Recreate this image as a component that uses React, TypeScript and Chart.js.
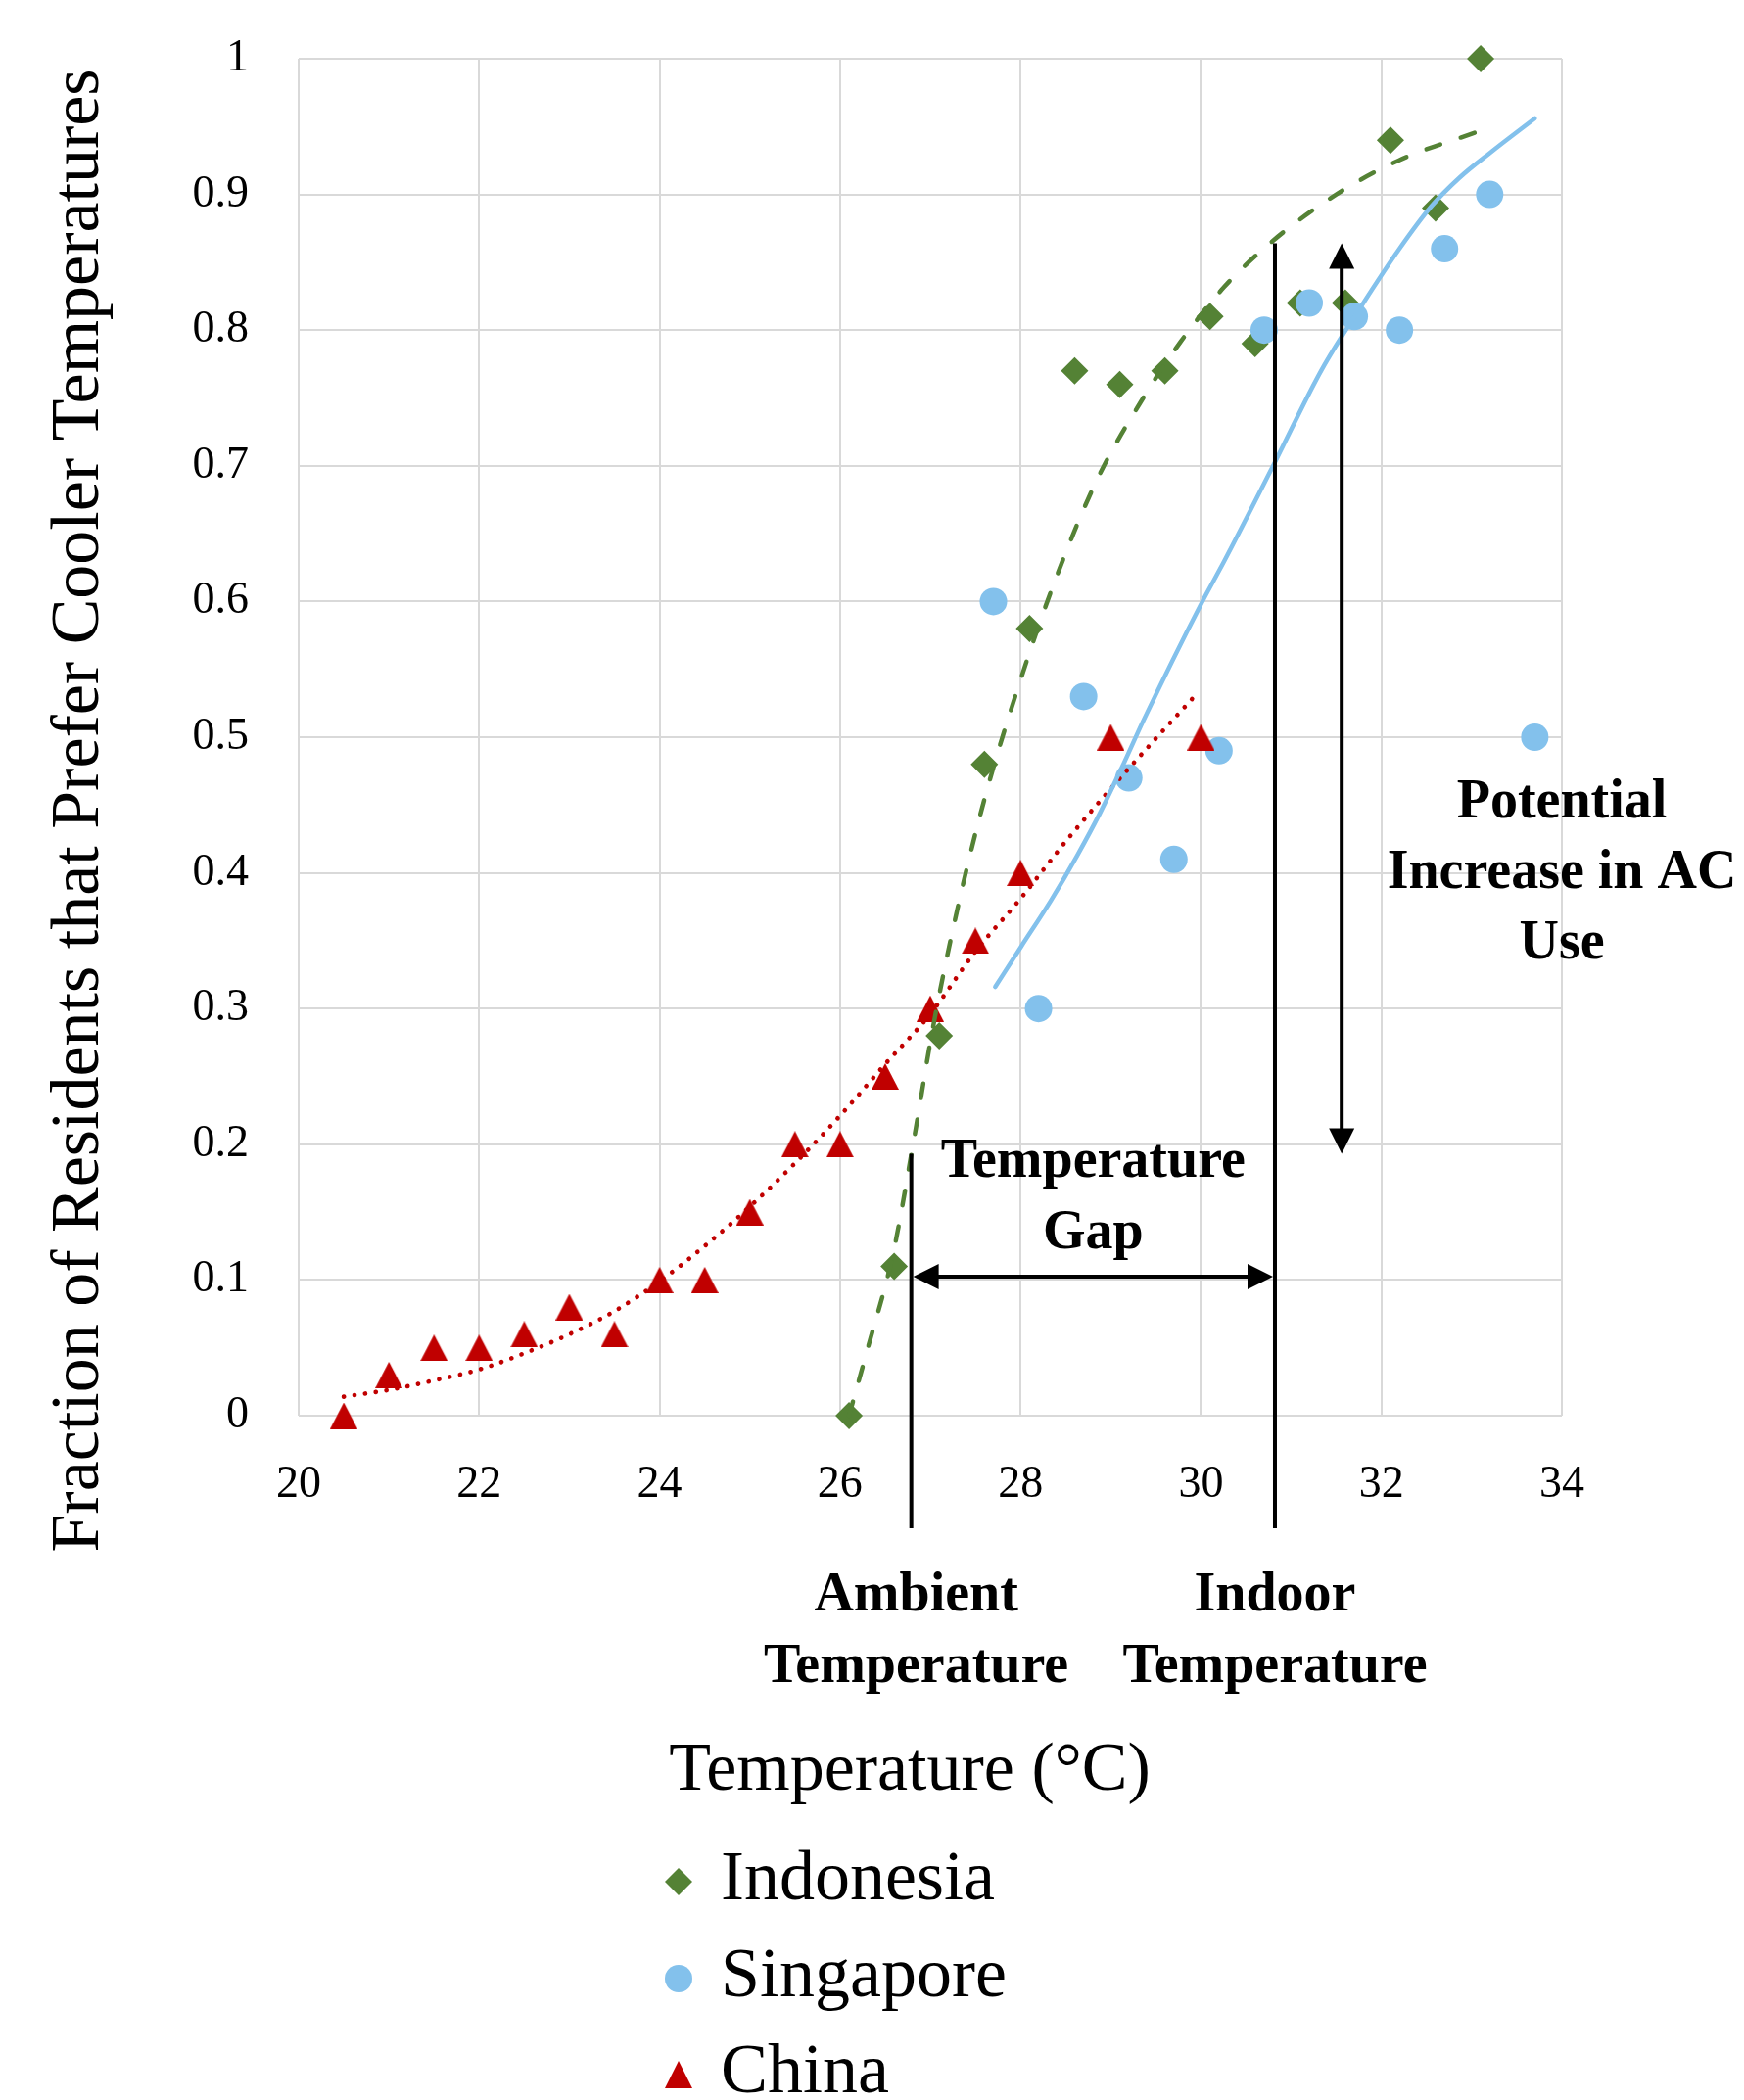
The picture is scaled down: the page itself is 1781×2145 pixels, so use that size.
import React, { useEffect, useRef } from 'react';
import { Chart, registerables } from 'chart.js';

Chart.register(...registerables);

// ---------------- data ----------------
const seriesNames = ['Indonesia', 'Singapore', 'China'];

const indonesiaX = [26.1, 26.6, 27.1, 27.6, 28.1, 28.6, 29.1, 29.6, 30.1, 30.6, 31.1, 31.6, 32.1, 32.6, 33.1];
const indonesiaY = [0, 0.11, 0.28, 0.48, 0.58, 0.77, 0.76, 0.77, 0.81, 0.79, 0.82, 0.82, 0.94, 0.89, 1.0];

const singaporeX = [27.7, 28.2, 28.7, 29.2, 29.7, 30.2, 30.7, 31.2, 31.7, 32.2, 32.7, 33.2, 33.7];
const singaporeY = [0.6, 0.3, 0.53, 0.47, 0.41, 0.49, 0.8, 0.82, 0.81, 0.8, 0.86, 0.9, 0.5];

const chinaX = [20.5, 21, 21.5, 22, 22.5, 23, 23.5, 24, 24.5, 25, 25.5, 26, 26.5, 27, 27.5, 28, 29, 30];
const chinaY = [0, 0.03, 0.05, 0.05, 0.06, 0.08, 0.06, 0.1, 0.1, 0.15, 0.2, 0.2, 0.25, 0.3, 0.35, 0.4, 0.5, 0.5];

// trendlines
const indonesiaTrendX = [26.1, 26.3, 26.59, 26.82, 27.03, 27.33, 27.62, 27.98, 28.38, 28.85, 29.36, 29.77, 30.26, 30.8, 31.5, 32.19, 33.1];
const indonesiaTrendY = [0, 0.048, 0.12, 0.204, 0.286, 0.382, 0.459, 0.538, 0.615, 0.69, 0.75, 0.791, 0.832, 0.866, 0.9, 0.925, 0.947];

const singaporeTrendX = [27.72, 28.01, 28.34, 28.63, 28.88, 29.14, 29.36, 30.0, 30.26, 30.8, 31.34, 31.8, 32.2, 32.55, 32.86, 33.23, 33.7];
const singaporeTrendY = [0.316, 0.346, 0.38, 0.413, 0.444, 0.48, 0.512, 0.598, 0.63, 0.7, 0.771, 0.82, 0.86, 0.891, 0.912, 0.932, 0.956];

const chinaTrendX = [20.5, 21, 21.5, 22, 22.5, 23, 23.5, 24, 24.5, 25, 25.5, 26, 26.5, 27, 27.5, 28, 28.5, 29, 29.5, 29.94];
const chinaTrendY = [0.014, 0.019, 0.026, 0.034, 0.046, 0.06, 0.077, 0.099, 0.125, 0.154, 0.186, 0.221, 0.259, 0.296, 0.342, 0.381, 0.423, 0.462, 0.499, 0.531];

const xTickLabels = ['20', '22', '24', '26', '28', '30', '32', '34'];
const yTickLabels = ['0', '0.1', '0.2', '0.3', '0.4', '0.5', '0.6', '0.7', '0.8', '0.9', '1'];

// annotation values (data units)
const ambientTemp = 26.79;
const indoorTemp = 30.82;
const ambientLineTop = 0.193;
const indoorLineTop = 0.864;
const markerLineBottom = -0.083;
const gapArrowY = 0.1025;
const acArrowX = 31.56;
const acArrowTop = 0.864;
const acArrowBottom = 0.193;

const xTitle = 'Temperature (°C)';
const yTitle = 'Fraction of Residents that Prefer Cooler Temperatures';
const gapText = ['Temperature', 'Gap'];
const acText = ['Potential', 'Increase in AC', 'Use'];
const ambientText = ['Ambient', 'Temperature'];
const indoorText = ['Indoor', 'Temperature'];

// ---------------- styling ----------------
const W = 1781;
const H = 2145;
const GREEN = '#548235';
const BLUE = '#83C1EC';
const RED = '#C00000';
const SERIF = '"Liberation Serif", "Times New Roman", serif';

const toPts = (xs: number[], ys: number[]) => xs.map((x, i) => ({ x, y: ys[i] }));

function drawTriangle(ctx: CanvasRenderingContext2D, cx: number, cy: number, w: number, h: number, color: string) {
  ctx.beginPath();
  ctx.moveTo(cx, cy - h / 2);
  ctx.lineTo(cx + w / 2, cy + h / 2);
  ctx.lineTo(cx - w / 2, cy + h / 2);
  ctx.closePath();
  ctx.fillStyle = color;
  ctx.fill();
}

function makeTriangleImage(): HTMLCanvasElement {
  const c = document.createElement('canvas');
  c.width = 28;
  c.height = 27;
  const g = c.getContext('2d')!;
  drawTriangle(g, 14, 13.5, 28, 27, RED);
  return c;
}

function arrowHead(ctx: CanvasRenderingContext2D, tx: number, ty: number, dx: number, dy: number, len: number, halfW: number) {
  const bx = tx - dx * len;
  const by = ty - dy * len;
  ctx.beginPath();
  ctx.moveTo(tx, ty);
  ctx.lineTo(bx - dy * halfW, by + dx * halfW);
  ctx.lineTo(bx + dy * halfW, by - dx * halfW);
  ctx.closePath();
  ctx.fill();
}

function lines(ctx: CanvasRenderingContext2D, arr: string[], x: number, y0: number, step: number) {
  arr.forEach((s, i) => ctx.fillText(s, x, y0 + i * step));
}

const annotationPlugin = {
  id: 'annotations',
  afterDatasetsDraw(chart: any) {
    const ctx: CanvasRenderingContext2D = chart.ctx;
    const xs = chart.scales.x;
    const ys = chart.scales.y;
    const px = (v: number) => xs.getPixelForValue(v);
    const py = (v: number) => ys.getPixelForValue(v);
    ctx.save();
    ctx.strokeStyle = '#000';
    ctx.fillStyle = '#000';
    ctx.lineWidth = 4;
    ctx.lineCap = 'butt';

    // ambient & indoor marker lines
    ctx.beginPath();
    ctx.moveTo(px(ambientTemp), py(ambientLineTop));
    ctx.lineTo(px(ambientTemp), py(markerLineBottom));
    ctx.moveTo(px(indoorTemp), py(indoorLineTop));
    ctx.lineTo(px(indoorTemp), py(markerLineBottom));
    ctx.stroke();

    // temperature gap double arrow
    const head = 26;
    const hw = 13;
    const ax1 = px(ambientTemp) + 2;
    const ax2 = px(indoorTemp) - 2;
    const ay = py(gapArrowY);
    ctx.beginPath();
    ctx.moveTo(ax1 + head - 2, ay);
    ctx.lineTo(ax2 - head + 2, ay);
    ctx.stroke();
    arrowHead(ctx, ax1, ay, -1, 0, head, hw);
    arrowHead(ctx, ax2, ay, 1, 0, head, hw);

    // AC use double arrow
    const vx = px(acArrowX);
    const vy1 = py(acArrowTop);
    const vy2 = py(acArrowBottom);
    ctx.beginPath();
    ctx.moveTo(vx, vy1 + head - 2);
    ctx.lineTo(vx, vy2 - head + 2);
    ctx.stroke();
    arrowHead(ctx, vx, vy1, 0, -1, head, hw);
    arrowHead(ctx, vx, vy2, 0, 1, head, hw);

    // bold annotation text
    ctx.font = `bold 56px ${SERIF}`;
    ctx.textAlign = 'center';
    ctx.textBaseline = 'alphabetic';
    lines(ctx, gapText, (px(ambientTemp) + px(indoorTemp)) / 2, py(0.176), 73);
    lines(ctx, acText, px(34.0), py(0.441), 72);
    const bottom = chart.chartArea.bottom;
    lines(ctx, ambientText, px(ambientTemp) + 5, bottom + 199, 73);
    lines(ctx, indoorText, px(indoorTemp), bottom + 199, 73);
    ctx.restore();
  },
  afterDraw(chart: any) {
    const ctx: CanvasRenderingContext2D = chart.ctx;
    const area = chart.chartArea;
    ctx.save();
    ctx.fillStyle = '#000';
    // x axis title
    ctx.font = `70px ${SERIF}`;
    ctx.textAlign = 'center';
    ctx.textBaseline = 'alphabetic';
    ctx.fillText(xTitle, area.left + 624, area.bottom + 382);
    // y axis title (rotated)
    ctx.font = `70px ${SERIF}`;
    ctx.save();
    ctx.translate(area.left - 205, area.top + 768);
    ctx.rotate(-Math.PI / 2);
    ctx.fillText(yTitle, 0, 0);
    ctx.restore();

    // legend
    const lx = area.left + 388;
    const rows = [area.bottom + 476, area.bottom + 575, area.bottom + 673];
    ctx.font = `72px ${SERIF}`;
    ctx.textAlign = 'left';
    seriesNames.forEach((name, i) => {
      const cy = rows[i];
      if (i === 0) {
        ctx.beginPath();
        ctx.moveTo(lx, cy - 14);
        ctx.lineTo(lx + 14, cy);
        ctx.lineTo(lx, cy + 14);
        ctx.lineTo(lx - 14, cy);
        ctx.closePath();
        ctx.fillStyle = GREEN;
        ctx.fill();
      } else if (i === 1) {
        ctx.beginPath();
        ctx.arc(lx, cy, 14, 0, Math.PI * 2);
        ctx.fillStyle = BLUE;
        ctx.fill();
      } else {
        drawTriangle(ctx, lx, cy, 28, 28, RED);
      }
      ctx.fillStyle = '#000';
      ctx.fillText(name, lx + 43, cy + 18);
    });
    ctx.restore();
  },
};

export default function App() {
  const ref = useRef<HTMLCanvasElement>(null);
  useEffect(() => {
    document.body.style.margin = '0';
    const canvas = ref.current!;
    const tri = makeTriangleImage();
    const chart = new Chart(canvas, {
      type: 'scatter',
      data: {
        datasets: [
          {
            label: seriesNames[0] + ' trend',
            data: toPts(indonesiaTrendX, indonesiaTrendY),
            showLine: true,
            borderColor: GREEN,
            borderWidth: 4.5,
            borderDash: [15, 22],
            borderCapStyle: 'round',
            pointRadius: 0,
            cubicInterpolationMode: 'monotone',
            order: 1,
            clip: false,
          },
          {
            label: seriesNames[1] + ' trend',
            data: toPts(singaporeTrendX, singaporeTrendY),
            showLine: true,
            borderColor: BLUE,
            borderWidth: 4.5,
            borderCapStyle: 'round',
            pointRadius: 0,
            cubicInterpolationMode: 'monotone',
            order: 2,
            clip: false,
          },
          {
            label: seriesNames[2] + ' trend',
            data: toPts(chinaTrendX, chinaTrendY),
            showLine: true,
            borderColor: RED,
            borderWidth: 4.7,
            borderDash: [0.1, 10.9],
            borderCapStyle: 'round',
            pointRadius: 0,
            cubicInterpolationMode: 'monotone',
            order: 3,
            clip: false,
          },
          {
            label: seriesNames[2],
            data: toPts(chinaX, chinaY),
            pointStyle: tri,
            pointRadius: 14,
            backgroundColor: RED,
            borderWidth: 0,
            order: 4,
            clip: false,
          },
          {
            label: seriesNames[1],
            data: toPts(singaporeX, singaporeY),
            pointStyle: 'circle',
            pointRadius: 14,
            backgroundColor: BLUE,
            borderColor: BLUE,
            borderWidth: 0,
            order: 5,
            clip: false,
          },
          {
            label: seriesNames[0],
            data: toPts(indonesiaX, indonesiaY),
            pointStyle: 'rectRot',
            pointRadius: 14,
            backgroundColor: GREEN,
            borderColor: GREEN,
            borderWidth: 0,
            order: 6,
            clip: false,
          },
        ],
      } as any,
      options: {
        responsive: false,
        animation: false,
        devicePixelRatio: 1,
        layout: { autoPadding: false, padding: { left: 0, top: 60, right: W - 1595, bottom: 0 } },
        plugins: {
          legend: { display: false },
          tooltip: { enabled: false },
          title: { display: false },
        },
        scales: {
          x: {
            type: 'linear',
            min: 20,
            max: 34,
            afterFit: (s: any) => {
              s.height = H - 1446;
            },
            ticks: {
              stepSize: 2,
              padding: 0,
              color: '#000',
              font: { family: SERIF, size: 46 },
              callback: (_v: any, i: number) => xTickLabels[i],
            },
            grid: { color: '#D9D9D9', lineWidth: 2, drawTicks: true, tickLength: 43, tickColor: 'rgba(0,0,0,0)' },
            border: { display: false },
          },
          y: {
            type: 'linear',
            min: 0,
            max: 1,
            afterFit: (s: any) => {
              s.width = 305;
            },
            ticks: {
              stepSize: 0.1,
              padding: 0,
              color: '#000',
              font: { family: SERIF, size: 46 },
              callback: (_v: any, i: number) => yTickLabels[i],
            },
            grid: { color: '#D9D9D9', lineWidth: 2, drawTicks: true, tickLength: 51, tickColor: 'rgba(0,0,0,0)' },
            border: { display: false },
          },
        },
      } as any,
      plugins: [annotationPlugin],
    });
    return () => chart.destroy();
  }, []);
  return (
    <div style={{ width: W, height: H }}>
      <canvas ref={ref} width={W} height={H} style={{ display: 'block', width: W, height: H }} />
    </div>
  );
}
